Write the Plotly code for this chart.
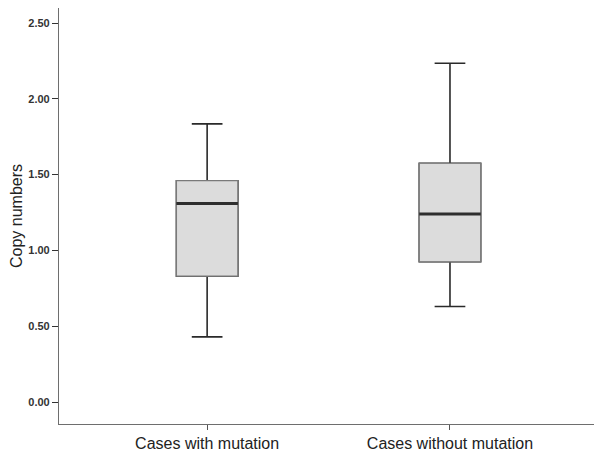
import plotly.graph_objects as go

# Box statistics
groups = ["Cases with mutation", "Cases without mutation"]
lower = [0.43, 0.63]
q1 = [0.83, 0.925]
median = [1.31, 1.24]
q3 = [1.46, 1.575]
upper = [1.835, 2.235]

y_ticks = [0.0, 0.5, 1.0, 1.5, 2.0, 2.5]
y_ticktext = ["0.00", "0.50", "1.00", "1.50", "2.00", "2.50"]

fig = go.Figure()

# whiskers (dark)
fig.add_trace(go.Box(
    x=groups, q1=q1, median=median, q3=q3,
    lowerfence=lower, upperfence=upper,
    width=0.253, whiskerwidth=0.5,
    fillcolor="#dcdcdc", line=dict(color="#2a2a2a", width=1.6),
    boxpoints=False, showlegend=False, hoverinfo="skip",
))
# box body with lighter outline
fig.add_trace(go.Box(
    x=groups, q1=q1, median=median, q3=q3,
    lowerfence=q1, upperfence=q3,
    width=0.253, whiskerwidth=0,
    fillcolor="#dcdcdc", line=dict(color="#7a7a7a", width=1.2),
    boxpoints=False, showlegend=False, hoverinfo="skip",
))
# median line (thick, dark)
fig.add_trace(go.Scatter(
    x=groups, y=median, mode="markers",
    marker=dict(symbol="line-ew", size=44, line=dict(color="#2e2e2e", width=3)),
    showlegend=False, hoverinfo="skip",
))

fig.update_xaxes(
    range=[-0.61, 1.626], automargin=False,
    showline=True, linecolor="#6e6e6e", linewidth=1.2,
    ticks="outside", ticklen=5, tickcolor="#555", tickwidth=1,
    tickfont=dict(family="Arial", size=16, color="#222"),
    showgrid=False, zeroline=False,
)
fig.update_yaxes(
    range=[-0.145, 2.599], automargin=False,
    tickvals=y_ticks, ticktext=y_ticktext,
    showline=True, linecolor="#6e6e6e", linewidth=1.2,
    ticks="outside", ticklen=6, tickcolor="#333", tickwidth=1.2,
    tickfont=dict(family="Arial", size=11, color="#333", weight="bold"),
    title_text="Copy numbers",
    title_font=dict(family="Arial", size=16, color="#222"),
    title_standoff=3,
    showgrid=False, zeroline=False,
)

# page body has an 8px margin, so margins are shifted to compensate
fig.update_layout(
    width=602, height=459,
    margin=dict(l=51, r=8, t=0, b=43, autoexpand=False),
    plot_bgcolor="white", paper_bgcolor="white",
    boxmode="overlay",
)

fig.write_html("out.html")
